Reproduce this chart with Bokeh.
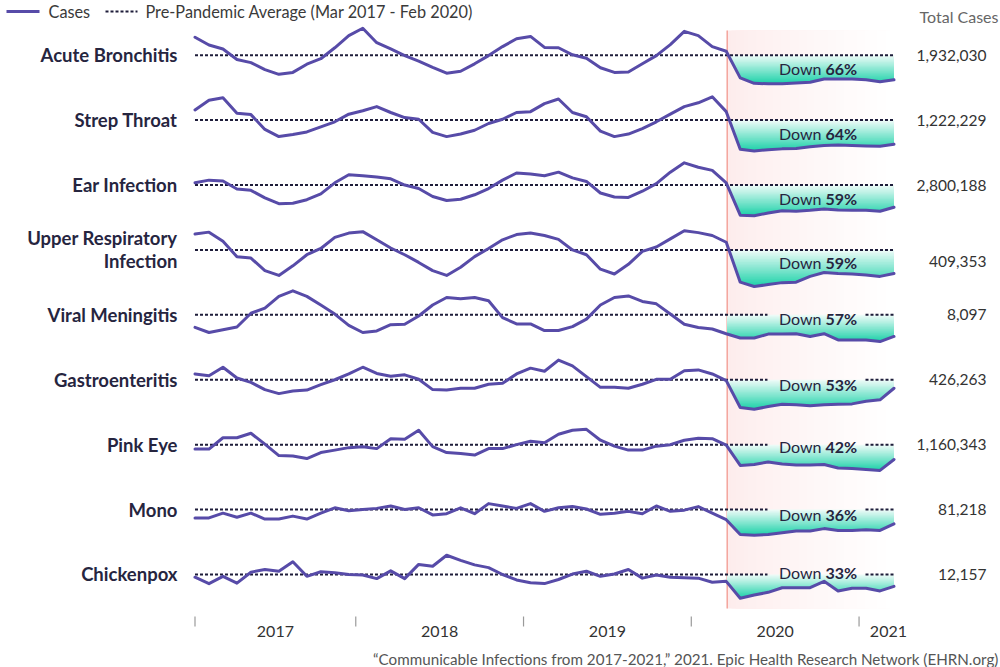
import numpy as np
from bokeh.plotting import figure
from bokeh.models import Range1d
from bokeh.core.properties import value
from bokeh.embed import file_html
from bokeh.resources import INLINE

# ---------------- data ----------------
conditions = ["Acute Bronchitis", "Strep Throat", "Ear Infection",
              "Upper Respiratory\nInfection", "Viral Meningitis",
              "Gastroenteritis", "Pink Eye", "Mono", "Chickenpox"]
total_cases = ["1,932,030", "1,222,229", "2,800,188", "409,353", "8,097",
               "426,263", "1,160,343", "81,218", "12,157"]
down_pct = [66, 64, 59, 59, 57, 53, 42, 36, 33]

# monthly cases, Jan 2017 .. Mar 2021, as % of pre-pandemic average (=100)
acute_bronchitis = [146, 126, 116, 89, 81, 63, 51, 56, 77, 91, 119, 150, 169, 132, 116, 99, 85,
                    69, 54, 59, 78, 99, 122, 142, 148, 120, 119, 101, 92, 68, 56, 57, 78, 99,
                    127, 161, 150, 122, 110, 42, 28, 27, 27, 29, 31, 39, 39, 39, 37, 32, 37]
strep_throat = [124, 147, 153, 116, 113, 78, 61, 66, 72, 84, 96, 114, 122, 132, 118, 106, 102,
                71, 61, 67, 76, 92, 102, 118, 120, 139, 150, 118, 108, 74, 61, 67, 80, 96,
                114, 132, 141, 155, 120, 31, 27, 30, 32, 33, 37, 40, 41, 40, 39, 38, 43]
ear_infection = [105, 111, 109, 91, 88, 71, 58, 59, 67, 80, 105, 123, 121, 118, 114, 100, 92,
                 74, 65, 68, 78, 92, 111, 127, 125, 121, 129, 116, 108, 82, 73, 72, 86, 103,
                 129, 150, 140, 133, 105, 32, 31, 37, 42, 41, 43, 46, 44, 43, 43, 41, 50]
upper_respiratory = [133, 137, 118, 86, 83, 57, 47, 67, 90, 103, 126, 135, 138, 121, 104, 90,
                     74, 57, 47, 64, 86, 103, 121, 132, 135, 130, 122, 100, 90, 60, 50, 70, 97,
                     106, 123, 140, 136, 130, 116, 33, 24, 28, 32, 33, 45, 53, 51, 50, 48, 45, 51]
viral_meningitis = [68, 55, 62, 69, 104, 117, 147, 161, 147, 125, 102, 73, 55, 59, 75, 76, 97,
                    125, 144, 141, 144, 136, 93, 77, 77, 60, 60, 70, 89, 125, 144, 148, 134,
                    128, 102, 76, 68, 64, 52, 41, 41, 51, 51, 52, 45, 52, 36, 36, 36, 32, 45]
gastroenteritis = [113, 109, 128, 104, 94, 78, 69, 75, 77, 89, 100, 113, 128, 114, 108, 111,
                   101, 78, 77, 81, 81, 90, 92, 113, 126, 119, 144, 131, 107, 83, 83, 81, 90,
                   101, 101, 120, 122, 113, 98, 38, 34, 40, 45, 44, 42, 44, 45, 46, 52, 55, 81]
pink_eye = [91, 91, 114, 114, 123, 101, 78, 77, 72, 84, 89, 94, 96, 92, 112, 111, 129, 96, 84,
            82, 79, 92, 92, 100, 107, 104, 121, 129, 131, 109, 97, 89, 89, 97, 100, 109, 113,
            112, 99, 58, 60, 65, 61, 59, 59, 60, 53, 52, 50, 48, 70]
mono = [86, 86, 94, 87, 94, 84, 84, 89, 84, 94, 103, 98, 100, 102, 106, 100, 103, 91, 93, 103,
        93, 110, 106, 102, 110, 97, 103, 105, 101, 92, 94, 97, 93, 106, 97, 99, 105, 94, 83,
        58, 57, 58, 61, 64, 64, 68, 65, 65, 66, 65, 76]
chickenpox = [94, 80, 96, 81, 105, 111, 107, 128, 96, 106, 104, 100, 99, 91, 108, 91, 122, 118,
              142, 131, 121, 115, 100, 88, 82, 80, 89, 101, 107, 96, 101, 111, 92, 99, 94, 93,
              92, 83, 85, 48, 55, 61, 71, 71, 71, 85, 64, 70, 70, 64, 74]

series = [acute_bronchitis, strep_throat, ear_infection, upper_respiratory, viral_meningitis,
          gastroenteritis, pink_eye, mono, chickenpox]

year_labels = ["2017", "2018", "2019", "2020", "2021"]
year_ticks = [0, 11.5, 23.5, 35.5, 47.5]     # month index of year boundaries
axis_end = 51.7
pandemic_start = 38.07                      # mid-March 2020 (month index)
baseline_value = 100

# ---------------- layout / style ----------------
W, H = 1000, 667
X0, DX = 194.5, 13.98          # pixel of first month, pixels per month
ROW0, ROW_STEP = 54.7, 64.91
px_per_pct = [0.391, 0.423, 0.444, 0.481, 0.393, 0.447, 0.495, 0.595, 0.457]
label_dy = [13, 13, 13.5, 13, 4, 5, 2, 5, -2]
label_on_line = [False, False, False, False, True, True, True, True, True]

LINE = "#574ba8"
DOT = "#1e1d3a"
DARK = "#26253f"
FONT = value("Lato")


def X(px):
    return (px - X0) / DX


def base(k):
    return ROW0 + ROW_STEP * k


def ymap(k, v):
    return base(k) - (np.asarray(v, dtype=float) - baseline_value) * px_per_pct[k]


def lerp(c0, c1, t):
    return "#%02x%02x%02x" % tuple(int(round(a + (b - a) * t)) for a, b in zip(c0, c1))


p = figure(width=W, height=H, x_range=Range1d(X(0), X(W)), y_range=Range1d(H, 0),
           output_backend="svg", toolbar_location=None, min_border=0,
           x_axis_location=None, y_axis_location=None,
           outline_line_color=None, background_fill_color="white",
           border_fill_color="white")
p.grid.grid_line_color = None

n = len(acute_bronchitis)
idx = np.arange(n)

# pink shaded pandemic period (horizontal fade)
NS = 40
xs_left = [pandemic_start + (n - 1 - pandemic_start) * j / NS for j in range(NS)]
pink_cols = [lerp((253, 236, 236), (255, 255, 255), (j / (NS - 1)) ** 0.8) for j in range(NS)]
p.quad(left=xs_left, right=[n - 1] * NS, top=[30] * NS, bottom=[608] * NS,
       fill_color=pink_cols, line_color=None)
p.segment(x0=[pandemic_start], y0=[30], x1=[pandemic_start], y1=[608],
          line_color="#f4a49c", line_width=1.5)

# teal gradient fills between average and line after pandemic start
NB = 24
for k, vals in enumerate(series):
    xi = np.linspace(pandemic_start, n - 1, 500)
    vi = np.interp(xi, idx, vals)
    vmin = vi.min()
    for j in range(NB):
        c = baseline_value - (baseline_value - vmin) * j / NB
        col = lerp((236, 251, 247), (32, 210, 170), j / (NB - 1))
        lower = np.minimum(vi, c)
        p.varea(x=xi, y1=ymap(k, lower), y2=ymap(k, np.full_like(xi, c)),
                fill_color=col)

# dotted pre-pandemic averages
for k in range(len(series)):
    yb = float(ymap(k, baseline_value))
    if label_on_line[k]:
        p.segment(x0=[0, X(865)], y0=[yb, yb], x1=[X(767), n - 1], y1=[yb, yb],
                  line_color=DOT, line_width=2, line_dash="3 2")
    else:
        p.segment(x0=[0], y0=[yb], x1=[n - 1], y1=[yb],
                  line_color=DOT, line_width=2, line_dash="3 2")

# case lines
for k, vals in enumerate(series):
    p.line(idx, ymap(k, vals), line_color=LINE, line_width=3,
           line_join="round", line_cap="round")

# row labels, totals, down labels
for k, name in enumerate(conditions):
    lines = name.split("\n")
    yb = base(k)
    nl = len(lines)
    for li, t in enumerate(lines):
        yy = yb + (li - (nl - 1) / 2) * 23
        p.text(x=[X(177)], y=[yy], text=[t], text_font=FONT, text_font_style="bold",
               text_font_size="18.5px", text_color=DARK, text_align="right",
               text_baseline="middle")
    ytot = yb + ((nl - 1) / 2) * 23 if nl > 1 else yb
    p.text(x=[X(986)], y=[ytot], text=[total_cases[k]], text_font=FONT,
           text_font_size="15.5px", text_color="#333333", text_align="right",
           text_baseline="middle")
    yd = yb + label_dy[k]
    p.text(x=[X(821)], y=[yd], text=["Down"], text_font=FONT, text_font_size="16px",
           text_color=DARK, text_align="right", text_baseline="middle")
    p.text(x=[X(825)], y=[yd], text=["%d%%" % down_pct[k]], text_font=FONT,
           text_font_style="bold", text_font_size="16px", text_color=DARK,
           text_align="left", text_baseline="middle")

# x axis: year ticks and labels
p.segment(x0=year_ticks, y0=[616] * 5, x1=year_ticks, y1=[626] * 5,
          line_color="#9a9a9a", line_width=1.2)
bounds = year_ticks + [axis_end]
year_pos = [(bounds[i] + bounds[i + 1]) / 2 for i in range(len(year_labels))]
p.text(x=year_pos, y=[631] * 5, text=year_labels, text_font=FONT, text_font_size="16px",
       text_color="#333333", text_align="center", text_baseline="middle")

# legend
p.segment(x0=[X(6)], y0=[11], x1=[X(39)], y1=[11], line_color=LINE, line_width=3)
p.segment(x0=[X(105)], y0=[11], x1=[X(137)], y1=[11], line_color=DOT, line_width=2,
          line_dash="3 2")
p.text(x=[X(48), X(145)], y=[11, 11],
       text=["Cases", "Pre-Pandemic Average (Mar 2017 - Feb 2020)"],
       text_font=FONT, text_font_size="16.3px", text_color="#3a3a3a",
       text_align="left", text_baseline="middle")
p.text(x=[X(998)], y=[16], text=["Total Cases"], text_font=FONT,
       text_font_size="16px", text_color="#666666", text_align="right",
       text_baseline="middle")

# source
p.text(x=[X(998)], y=[658],
       text=["\u201cCommunicable Infections from 2017-2021,\u201d 2021. Epic Health Research Network (EHRN.org)"],
       text_font=FONT, text_font_size="15.2px", text_color="#555555", text_align="right",
       text_baseline="middle")

open("out.html", "w").write(file_html(p, INLINE))
